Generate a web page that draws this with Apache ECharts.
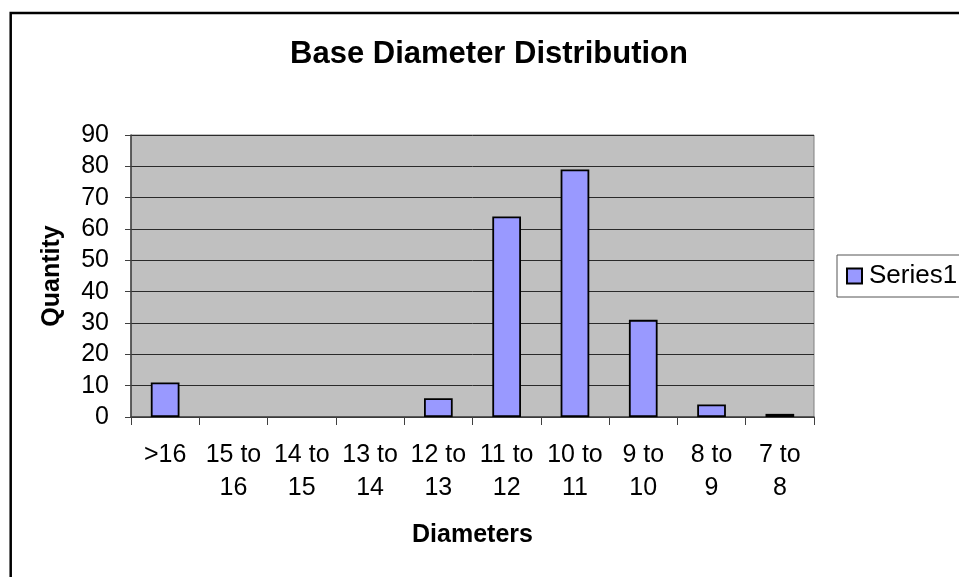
<!DOCTYPE html>
<html>
<head>
<meta charset="utf-8">
<script src="https://cdn.jsdelivr.net/npm/echarts@6/dist/echarts.min.js"></script>
<style>
  html, body { margin: 0; padding: 0; background: #fff; }
  #chart { width: 959px; height: 577px; }
</style>
</head>
<body>
<div id="chart"></div>
<script>
// Diameter classes (largest first) and how many pieces fall in each
const categories = ['>16', '15 to 16', '14 to 15', '13 to 14', '12 to 13', '11 to 12', '10 to 11', '9 to 10', '8 to 9', '7 to 8'];
const quantities = [11, 0, 0, 0, 6, 64, 79, 31, 4, 1];
const seriesName = 'Series1';
const titleText = 'Base Diameter Distribution';
const xName = 'Diameters';
const yName = 'Quantity';

const FONT = '"Liberation Sans", Arial, sans-serif';

// Empty classes get no outline, so nothing is drawn for them
const barData = quantities.map(v => (v === 0 ? { value: v, itemStyle: { borderWidth: 0 } } : v));

const chart = echarts.init(document.getElementById('chart'), null, { renderer: 'canvas' });

chart.setOption({
  backgroundColor: '#ffffff',
  animation: false,
  textStyle: { fontFamily: FONT, color: '#000' },
  title: {
    text: titleText,
    left: 489,
    top: 39,
    padding: 0,
    textAlign: 'center',
    textStyle: { fontFamily: FONT, fontSize: 31, fontWeight: 'bold', color: '#000' }
  },
  graphic: [{
    type: 'rect',
    shape: { x: 10.7, y: 13, width: 1200, height: 1000 },
    style: { fill: 'none', stroke: '#000', lineWidth: 2.5 },
    silent: true,
    z: 100
  }],
  legend: {
    left: 837,
    top: 255,
    padding: [8, 60, 8, 9],
    itemWidth: 15,
    itemHeight: 15,
    itemGap: 10,
    borderColor: '#555',
    borderWidth: 1,
    data: [{ name: seriesName, icon: 'rect' }],
    textStyle: { fontFamily: FONT, fontSize: 26, color: '#000', padding: [0, 0, 0, 2] }
  },
  grid: {
    left: 131,
    top: 135,
    right: 145,
    bottom: 160,
    show: true,
    backgroundColor: '#C0C0C0',
    borderColor: '#808080',
    borderWidth: 1
  },
  xAxis: {
    type: 'category',
    data: categories,
    name: xName,
    nameLocation: 'middle',
    nameGap: 106,
    nameTextStyle: { fontFamily: FONT, fontSize: 25, fontWeight: 'bold', color: '#000' },
    axisLine: { show: true, lineStyle: { color: '#404040', width: 1.5 } },
    axisTick: { show: true, length: 8, lineStyle: { color: '#404040', width: 1 } },
    axisLabel: {
      interval: 0,
      margin: 22,
      fontFamily: FONT,
      fontSize: 25,
      lineHeight: 33,
      color: '#000',
      formatter: v => v.replace(' to ', ' to\n')
    },
    splitLine: { show: false }
  },
  yAxis: {
    type: 'value',
    min: 0,
    max: 90,
    interval: 10,
    name: yName,
    nameLocation: 'middle',
    nameGap: 66,
    nameRotate: 90,
    nameTextStyle: { fontFamily: FONT, fontSize: 25, fontWeight: 'bold', color: '#000' },
    axisLine: { show: true, lineStyle: { color: '#404040', width: 1.5 } },
    axisTick: { show: true, length: 6, lineStyle: { color: '#404040', width: 1 } },
    axisLabel: { margin: 22, fontFamily: FONT, fontSize: 25, color: '#000' },
    splitLine: { show: true, lineStyle: { color: '#2a2a2a', width: 1 } }
  },
  series: [{
    name: seriesName,
    type: 'bar',
    data: barData,
    barWidth: '42%',
    itemStyle: { color: '#9999FF', borderColor: '#000', borderWidth: 1.8 }
  }]
});
</script>
</body>
</html>
